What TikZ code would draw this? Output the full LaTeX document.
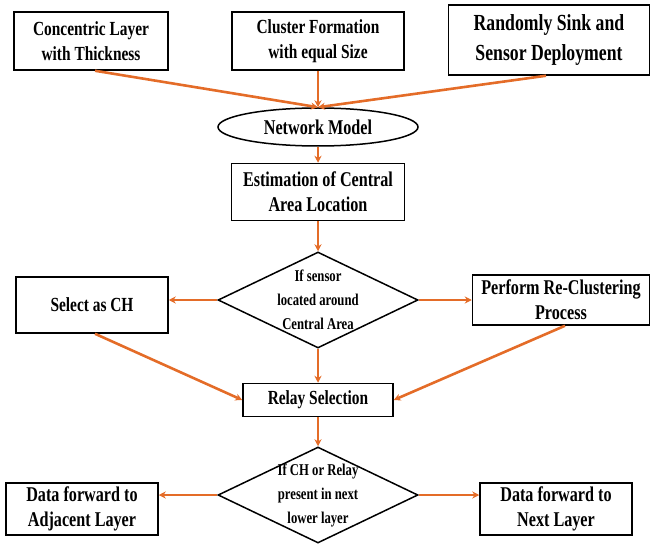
\documentclass[tikz,border=0pt]{standalone}
\usepackage{fontspec}
\setmainfont[FakeStretch=0.77]{Liberation Serif}
\usetikzlibrary{shapes.geometric,arrows.meta}
\definecolor{arrorange}{RGB}{228,108,40}
\tikzset{
  box/.style={draw=black,line width=1.5pt,rectangle,inner sep=0pt,align=center,font=\fontsize{20}{25}\selectfont\bfseries},
  bigtext/.style={font=\fontsize{21}{25}\selectfont\bfseries},
  dia/.style={draw=black,line width=1.5pt,diamond,inner sep=0pt,minimum width=200pt,minimum height=96pt},
  dtext/.style={inner sep=0pt,align=center,font=\fontsize{16.5}{24}\selectfont\bfseries},
  flow/.style={draw=arrorange,line width=2.6pt,-{Stealth[length=7pt,width=7pt]}}
}
\begin{document}
\begin{tikzpicture}[x=1pt,y=-1pt]
\useasboundingbox (0,0) rectangle (652,545);
% top row
\node[box,minimum width=154pt,minimum height=58pt] (b1) at (91,41) {Concentric Layer\\with Thickness};
\node[box,minimum width=172pt,minimum height=58pt] (b2) at (318,41) {Cluster Formation\\with equal Size};
\node[box,minimum width=201pt,minimum height=70pt,font=\fontsize{23}{30}\selectfont\bfseries] (b3) at (549,40) {Randomly Sink and\\Sensor Deployment};
% network model
\node[draw=black,line width=1.5pt,ellipse,inner sep=0pt,minimum width=200pt,minimum height=38pt,bigtext] (nm) at (318,127) {Network Model};
\node[box,minimum width=173pt,minimum height=57pt,bigtext] (est) at (318,192) {Estimation of Central\\Area Location};
% decision 1
\node[dia] (d1) at (318,300) {};
\node[dtext] (d1t) at (d1) {If sensor\\located around\\Central Area};
\node[box,minimum width=152pt,minimum height=56pt] (ch) at (92,305) {Select as CH};
\node[box,minimum width=177pt,minimum height=50pt,bigtext] (rc) at (561,300) {Perform Re-Clustering\\Process};
\node[box,minimum width=150pt,minimum height=33pt] (rs) at (318,400) {Relay Selection};
% decision 2
\node[dia] (d2) at (318,495) {};
\node[dtext] (d2t) at (d2) {If CH or Relay\\present in next\\lower layer};
\node[box,minimum width=152pt,minimum height=52pt,bigtext] (adj) at (82,509) {Data forward to\\Adjacent Layer};
\node[box,minimum width=152pt,minimum height=52pt,bigtext] (nxt) at (556,509) {Data forward to\\Next Layer};
% connectors
\draw[flow] ([xshift=4pt]b1.south) -- (nm.north);
\draw[flow] (b2.south) -- (nm.north);
\draw[flow] ([xshift=-3pt]b3.south) -- (nm.north);
\draw[flow] (nm.south) -- (est.north);
\draw[flow] (est.south) -- (d1.north);
\draw[flow] (d1.west) -- (d1.west -| ch.east);
\draw[flow] (d1.east) -- (d1.east -| rc.west);
\draw[flow] (d1.south) -- (rs.north);
\draw[flow] ([xshift=3pt]ch.south) -- (rs.west);
\draw[flow] ([xshift=4pt]rc.south) -- (rs.east);
\draw[flow] (rs.south) -- (d2.north);
\draw[flow] (d2.west) -- (d2.west -| adj.east);
\draw[flow] (d2.east) -- (d2.east -| nxt.west);
\end{tikzpicture}
\end{document}
